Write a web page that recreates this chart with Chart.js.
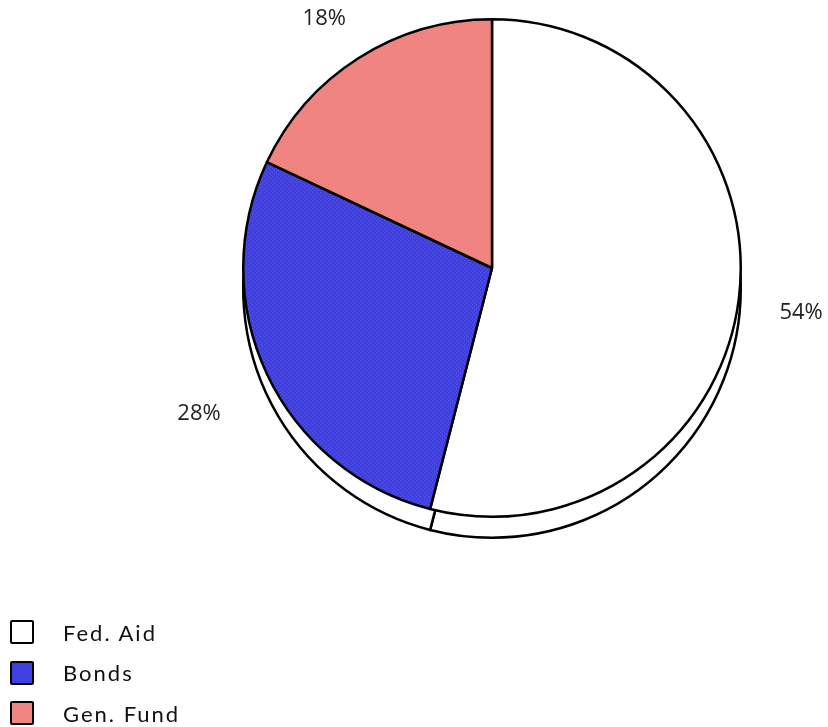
<!DOCTYPE html>
<html lang="en">
<head>
  <meta charset="UTF-8">
  <title>Funding sources</title>
  <script src="https://cdn.jsdelivr.net/npm/chart.js"></script>
  <style>
    html, body {
      margin: 0;
      padding: 0;
      background: #fff;
    }
    #wrap {
      position: relative;
      width: 828px;
      height: 727px;
    }
    #legend {
      position: absolute;
      left: 10px;
      top: 612px;
      font-family: "Lato", "Open Sans", sans-serif;
      font-size: 22px;
      letter-spacing: 2px;
      color: #111;
    }
    .row {
      display: flex;
      align-items: center;
      height: 40.5px;
    }
    .box {
      width: 20px;
      height: 20px;
      border: 2px solid #000;
      border-radius: 2px;
      margin-right: 29px;
    }
  </style>
</head>
<body>
  <div id="wrap">
    <canvas id="pie" width="828" height="727"></canvas>
    <div id="legend"></div>
  </div>

  <script>
    const labels = ["Fed. Aid", "Bonds", "Gen. Fund"];
    const shares = [54, 28, 18];
    const colors = ["#ffffff", "#4040e0", "#f08682"];

    // textured fill like the original (fine dither)
    function texture(base, dot) {
      const c = document.createElement("canvas");
      c.width = 4; c.height = 4;
      const g = c.getContext("2d");
      g.fillStyle = base;
      g.fillRect(0, 0, 4, 4);
      g.fillStyle = dot;
      g.fillRect(0, 0, 1, 1);
      g.fillRect(2, 2, 1, 1);
      return g.createPattern(c, "repeat");
    }
    const ctx0 = document.getElementById("pie").getContext("2d");
    const fills = [
      colors[0],
      texture(colors[1], "#5656ee"),
      texture(colors[2], "#e97a77")
    ];

    // bottom "depth" of the pie, drawn behind the slices
    const depth = {
      id: "depth",
      beforeDatasetsDraw(chart) {
        const ctx = chart.ctx;
        const arcs = chart.getDatasetMeta(0).data;
        ctx.save();
        ctx.lineWidth = 2.5;
        ctx.strokeStyle = "#000";
        ctx.fillStyle = "#fff";
        arcs.forEach(a => {
          ctx.beginPath();
          ctx.moveTo(a.x, a.y + 21);
          ctx.arc(a.x, a.y + 21, a.outerRadius, a.startAngle, a.endAngle);
          ctx.closePath();
          ctx.fill();
          ctx.stroke();
        });
        ctx.restore();
      }
    };

    const pctLabels = {
      id: "pctLabels",
      afterDatasetsDraw(chart) {
        const ctx = chart.ctx;
        const arcs = chart.getDatasetMeta(0).data;
        ctx.save();
        ctx.font = "22px 'Open Sans', sans-serif";
        ctx.fillStyle = "#222";
        ctx.textAlign = "center";
        ctx.textBaseline = "middle";
        // per-slice nudges: Fed. Aid, Bonds, Gen. Fund
        const shift = [[-9, 7], [-1, 19], [14, 3]];
        arcs.forEach((a, i) => {
          const mid = (a.startAngle + a.endAngle) / 2;
          const r = a.outerRadius + 50;
          const txt = shares[i] + "%";
          const w = ctx.measureText(txt).width;
          const x = a.x + Math.cos(mid) * r + Math.sign(Math.cos(mid)) * w / 2 + shift[i][0];
          const y = a.y + Math.sin(mid) * r + shift[i][1];
          ctx.fillText(txt, x, y);
        });
        ctx.restore();
      }
    };

    new Chart(ctx0, {
      type: "pie",
      data: {
        labels: labels,
        datasets: [{
          data: shares,
          backgroundColor: fills,
          borderColor: "#000",
          borderWidth: 2.5
        }]
      },
      options: {
        responsive: false,
        animation: false,
        layout: { padding: { left: 242, right: 86, top: 17, bottom: 208 } },
        plugins: {
          legend: { display: false },
          tooltip: { enabled: false }
        }
      },
      plugins: [depth, pctLabels]
    });

    const legend = document.getElementById("legend");
    labels.forEach((name, i) => {
      const row = document.createElement("div");
      row.className = "row";
      const box = document.createElement("div");
      box.className = "box";
      box.style.background = colors[i];
      row.appendChild(box);
      row.appendChild(document.createTextNode(name));
      legend.appendChild(row);
    });
  </script>
</body>
</html>
